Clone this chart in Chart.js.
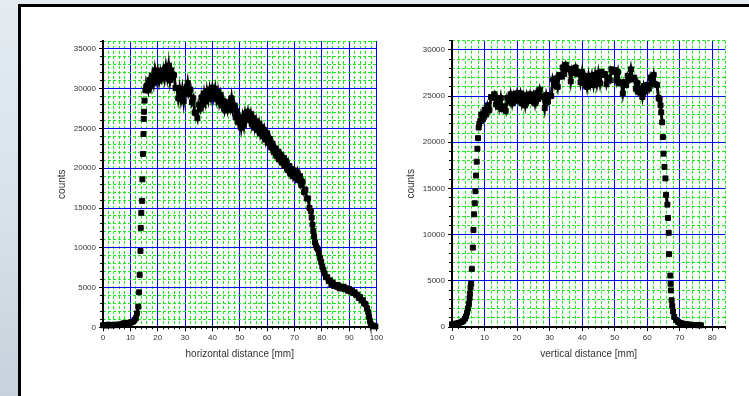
<!DOCTYPE html>
<html>
<head>
<meta charset="utf-8">
<script src="https://cdn.jsdelivr.net/npm/chart.js@4.4.1/dist/chart.umd.min.js"></script>
<style>
  html, body { margin: 0; padding: 0; }
  body {
    width: 749px; height: 396px; overflow: hidden; position: relative;
    background: linear-gradient(180deg, #e4ecf2 0%, #d8e1e9 55%, #c7d1db 100%);
  }
  #panel {
    position: absolute; left: 18px; top: 4px; width: 800px; height: 460px;
    box-sizing: border-box; border: 3px solid #000; background: #fff;
  }
  canvas { position: absolute; }
  #hChart { left: 40px; top: 20px; }
  #vChart { left: 390px; top: 20px; }
</style>
</head>
<body>
<div id="panel"></div>
<canvas id="hChart" width="352" height="360"></canvas>
<canvas id="vChart" width="350" height="360"></canvas>
<script>
// Horizontal beam profile: position [mm] and counts
const hDist = [
  0, 0.5, 1, 1.5, 2, 2.5, 3, 3.5, 4, 4.5, 5, 5.5, 6, 6.5, 7, 7.5, 8, 8.5, 9, 9.5,
  10, 10.5, 11, 11.5, 12,
  12.4, 12.9, 13.2, 13.4, 13.7, 13.8, 14.0, 14.3, 14.4, 14.6, 14.8, 14.9, 15.0, 15.2, 15.5, 15.8,
  16, 16.5, 17, 17.5, 18, 18.5, 19, 19.5,
  20, 20.5, 21, 21.5, 22, 22.5, 23, 23.5, 24, 24.5, 25, 25.5, 26, 26.5, 27, 27.5, 28, 28.5, 29, 29.5,
  30, 30.5, 31, 31.5, 32, 32.5, 33, 33.5, 34, 34.5, 35, 35.5, 36, 36.5, 37, 37.5, 38, 38.5, 39, 39.5,
  40, 40.5, 41, 41.5, 42, 42.5, 43, 43.5, 44, 44.5, 45, 45.5, 46, 46.5, 47, 47.5, 48, 48.5, 49, 49.5,
  50, 50.5, 51, 51.5, 52, 52.5, 53, 53.5, 54, 54.5, 55, 55.5, 56, 56.5, 57, 57.5, 58, 58.5, 59, 59.5,
  60, 60.5, 61, 61.5, 62, 62.5, 63, 63.5, 64, 64.5, 65, 65.5, 66, 66.5, 67, 67.5, 68, 68.5, 69, 69.5,
  70, 70.5, 71, 71.5, 72, 72.5, 73, 73.5, 74, 74.5, 75, 75.5,
  76, 76.3, 76.6, 76.9, 77.2, 77.5, 77.8, 78.2, 78.6, 79, 79.4, 79.8, 80.2, 80.6,
  81, 81.5, 82, 82.5, 83, 83.5, 84, 84.5, 85, 85.5, 86, 86.5, 87, 87.5, 88, 88.5, 89, 89.5,
  90, 90.5, 91, 91.5, 92, 92.5, 93, 93.5, 94, 94.5, 95, 95.5, 96, 96.5,
  97, 97.3, 97.6, 97.9, 98.3, 98.8, 99.3, 99.6
];
const hCounts = [
  250, 300, 220, 280, 320, 260, 300, 240, 310, 280, 330, 270, 350, 300, 420, 500, 460, 540, 500, 580,
  560, 650, 720, 900, 1150,
  1750, 2600, 4400, 6600, 9600, 12500, 14400, 15900, 18600, 21800, 24300, 26200, 27100, 28500, 29800, 30200,
  30400, 29800, 31100, 30300, 31600, 30700, 32300, 31200,
  32200, 31000, 32100, 31300, 32300, 31300, 32700, 31500, 32900, 31100, 32300, 31400, 31700, 30100, 30100, 28800, 30000, 28700, 29900, 28400,
  29900, 29400, 30700, 29400, 29900, 28300, 28800, 27000, 26900, 26300, 28000, 27500, 28900, 28000, 29400, 28400, 29700, 28700, 29900, 28900,
  30100, 29000, 30000, 28700, 29600, 28300, 29200, 27900, 28500, 27300, 28000, 27300, 28300, 27600, 28800, 27300, 27900, 26400, 27200, 25800,
  26300, 25100, 26400, 25400, 26900, 26200, 27100, 26100, 26800, 25500, 26300, 25100, 25900, 24800, 25600, 24400, 25200, 24000, 24800, 23600,
  24400, 23200, 23700, 22600, 23100, 22000, 22500, 21500, 22100, 21100, 21700, 20700, 21300, 20300, 20900, 19800, 20300, 19300, 19900, 19000,
  19700, 18800, 19500, 18500, 19000, 17900, 18300, 17000, 17300, 16200, 16200, 15000,
  14600, 13800, 12900, 12100, 11400, 10700, 10300, 10000, 9800, 9300, 8700, 8200, 7600, 7200,
  6800, 6300, 6300, 5800, 5900, 5400, 5600, 5200, 5300, 5100, 5300, 4900, 5100, 4900, 5100, 4800, 4900, 4600,
  4800, 4500, 4600, 4300, 4400, 4100, 4100, 3700, 3800, 3400, 3400, 3000, 2900, 2400,
  1900, 1300, 800, 400, 250, 200, 150, 100
];

// Vertical beam profile: position [mm] and counts
const vDist = [
  0, 0.5, 1, 1.5, 2, 2.5, 3, 3.5,
  4, 4.3, 4.6, 4.9, 5.2, 5.4, 5.5, 5.7, 5.9, 6.1, 6.4, 6.6, 6.8, 7.0, 7.2, 7.4, 7.6, 7.8, 8.0, 8.2, 8.4, 8.7,
  9, 9.5,
  10, 10.5, 11, 11.5, 12, 12.5, 13, 13.5, 14, 14.5, 15, 15.5, 16, 16.5, 17, 17.5, 18, 18.5, 19, 19.5,
  20, 20.5, 21, 21.5, 22, 22.5, 23, 23.5, 24, 24.5, 25, 25.5, 26, 26.5, 27, 27.5, 28, 28.5, 29, 29.5,
  30, 30.5, 31, 31.5, 32, 32.5, 33, 33.5, 34, 34.5, 35, 35.5, 36, 36.5, 37, 37.5, 38, 38.5, 39, 39.5,
  40, 40.5, 41, 41.5, 42, 42.5, 43, 43.5, 44, 44.5, 45, 45.5, 46, 46.5, 47, 47.5, 48, 48.5, 49, 49.5,
  50, 50.5, 51, 51.5, 52, 52.5, 53, 53.5, 54, 54.5, 55, 55.5, 56, 56.5, 57, 57.5, 58, 58.5, 59, 59.5,
  60, 60.5, 61, 61.5, 62, 62.5, 63, 63.5,
  63.8, 64.1, 64.3, 64.6, 64.8, 65.0, 65.3, 65.6, 65.8, 66.2, 66.4, 66.6, 66.7, 67.1, 67.2, 67.3, 67.5, 67.7, 67.9, 68.3, 68.9, 69.5,
  70, 70.5, 71, 71.5, 72, 72.5, 73, 73.5, 74, 74.5, 75, 75.5, 76, 76.5
];
const vCounts = [
  300, 250, 350, 380, 420, 480, 560, 680,
  900, 1150, 1550, 2000, 2500, 3100, 3600, 4300, 4700, 6300, 8600, 10500, 12200, 13400, 14700, 16400, 17900, 19300, 20450, 21600, 22000, 22300,
  23000, 22500,
  23500, 23000, 24000, 23500, 24900, 24800, 25200, 24100, 24700, 23800, 24800, 23600, 23900, 23400, 24800, 24400, 25200, 24200, 25100, 24500,
  25300, 24600, 25300, 24200, 25000, 24000, 25100, 24500, 25200, 24500, 25100, 24200, 25300, 24700, 25700, 25000, 24900, 23700, 25100, 24400,
  25100, 25000, 26800, 26200, 26900, 26000, 27300, 27100, 28100, 27400, 28400, 28000, 27900, 26600, 27900, 27500, 28100, 27400, 27600, 26500,
  27600, 26400, 27000, 26000, 27200, 26300, 27200, 26200, 27300, 26300, 27500, 26400, 27600, 27300, 27400, 26300, 27000, 26700, 27900, 27600,
  27800, 26700, 27600, 26400, 26500, 25300, 26500, 26200, 27200, 26800, 27900, 26800, 27000, 25800, 26400, 25400, 25800, 24900, 26100, 25500,
  26200, 25800, 27000, 26400, 27300, 26300, 26200, 24800,
  24650, 24000, 23240, 22160, 20560, 18770, 17340, 16090, 14320, 13250, 11810, 10200, 7890, 5570, 4680, 3960, 2900, 2300, 1700, 1100, 750, 550,
  450, 400, 350, 320, 300, 260, 250, 230, 220, 210, 210, 200, 200, 190
];

// Labelled (major) tick positions
const hTicksX = [0, 10, 20, 30, 40, 50, 60, 70, 80, 90, 100];
const hTicksY = [0, 5000, 10000, 15000, 20000, 25000, 30000, 35000];
const vTicksX = [0, 10, 20, 30, 40, 50, 60, 70, 80];
const vTicksY = [0, 5000, 10000, 15000, 20000, 25000, 30000];

const FONT = "'Liberation Sans', Arial, Helvetica, sans-serif";
const TEXT = '#333333';
const MAJOR_GRID = '#0000ff';
const MINOR_GRID = '#22e622';
const CLEAR = 'rgba(0,0,0,0)';
// Steeper than this (counts per mm) the samples stand apart as single squares
const JOIN_SLOPE = 4000;

function onStep(v, step) {
  const q = v / step;
  return Math.abs(q - Math.round(q)) < 1e-6;
}

// Minor tick positions between the labelled ones
function minorTicks(max, step, major) {
  const out = [];
  for (let k = 0; k * step <= max + 1e-9; k++) {
    const v = k * step;
    if (!onStep(v, major)) out.push({ value: v });
  }
  return out;
}

// One profile panel: blue major grid with labels, green dashed minor grid, black square markers
function profileChart(id, xs, ys, ax) {
  const points = xs.map((x, i) => ({ x: x, y: ys[i] }));
  const tickFont = { family: FONT, size: 8 };
  const titleFont = { family: FONT, size: 10 };

  return new Chart(document.getElementById(id), {
    type: 'scatter',
    data: {
      datasets: [{
        data: points,
        showLine: true,
        tension: 0,
        borderWidth: 3,
        borderColor: '#000',
        segment: {
          borderColor: c => {
            const dx = Math.abs(c.p1.parsed.x - c.p0.parsed.x) || 1e-6;
            const dy = Math.abs(c.p1.parsed.y - c.p0.parsed.y);
            return dy / dx > JOIN_SLOPE ? CLEAR : undefined;
          }
        },
        pointStyle: 'rect',
        pointRadius: 3.5,
        pointHoverRadius: 3.5,
        pointBorderWidth: 1,
        pointBackgroundColor: '#000',
        pointBorderColor: '#000',
        clip: false
      }]
    },
    options: {
      responsive: false,
      animation: false,
      events: [],
      layout: { padding: { left: 0, top: ax.padTop, right: ax.padRight, bottom: 20 } },
      plugins: { legend: { display: false }, tooltip: { enabled: false } },
      scales: {
        x: {
          type: 'linear', axis: 'x', position: 'bottom', weight: 1,
          min: 0, max: ax.xMax,
          afterBuildTicks: s => { s.ticks = ax.xLabels.map(v => ({ value: v })); },
          ticks: {
            autoSkip: false, maxRotation: 0, minRotation: 0,
            padding: 2, color: TEXT, font: tickFont,
            callback: v => String(v)
          },
          grid: { color: MAJOR_GRID, tickColor: '#000', lineWidth: 1, tickLength: 4, tickWidth: 1 },
          border: { display: true, color: '#000', width: 2 },
          title: { display: true, text: ax.xTitle, color: TEXT, font: titleFont, padding: { top: 0, bottom: 0 } },
          afterFit: s => { s.height = ax.xBox; s.paddingLeft = 0; s.paddingRight = 0; }
        },
        xMinor: {
          type: 'linear', axis: 'x', position: 'bottom', weight: 0,
          min: 0, max: ax.xMax,
          afterBuildTicks: s => { s.ticks = minorTicks(ax.xMax, ax.xMinor, 10); },
          ticks: { display: false, autoSkip: false },
          grid: { color: MINOR_GRID, tickColor: '#000', lineWidth: 1, tickLength: 2, tickWidth: 1 },
          border: { display: false, dash: [3, 2] },
          afterFit: s => { s.height = 0; s.paddingLeft = 0; s.paddingRight = 0; }
        },
        y: {
          type: 'linear', axis: 'y', position: 'left', weight: 1,
          min: 0, max: ax.yMax,
          afterBuildTicks: s => { s.ticks = ax.yLabels.map(v => ({ value: v })); },
          ticks: {
            autoSkip: false, padding: 3, color: TEXT, font: tickFont,
            callback: v => String(v)
          },
          grid: { color: MAJOR_GRID, tickColor: '#000', lineWidth: 1, tickLength: 4, tickWidth: 1 },
          border: { display: true, color: '#000', width: 2 },
          title: { display: true, text: 'counts', color: TEXT, font: titleFont, padding: { top: ax.yTitlePad, bottom: 0 } },
          afterFit: s => { s.width = ax.yBox; s.paddingTop = 0; s.paddingBottom = 0; }
        },
        yMinor: {
          type: 'linear', axis: 'y', position: 'left', weight: 0,
          min: 0, max: ax.yMax,
          afterBuildTicks: s => { s.ticks = minorTicks(ax.yMax, ax.yMinor, 5000); },
          ticks: { display: false, autoSkip: false },
          grid: { color: MINOR_GRID, tickColor: '#000', lineWidth: 1, tickLength: 3, tickWidth: 1 },
          border: { display: false, dash: [3, 2] },
          afterFit: s => { s.width = 0; s.paddingTop = 0; s.paddingBottom = 0; }
        }
      }
    }
  });
}

profileChart('hChart', hDist, hCounts, {
  xMax: 100, xMinor: 2, xLabels: hTicksX,
  yMax: 36000, yMinor: 1000, yLabels: hTicksY,
  xTitle: 'horizontal distance [mm]',
  padTop: 21, padRight: 15.5, xBox: 32.7, yBox: 63, yTitlePad: 16
});

profileChart('vChart', vDist, vCounts, {
  xMax: 84, xMinor: 2, xLabels: vTicksX,
  yMax: 31000, yMinor: 1000, yLabels: vTicksY,
  xTitle: 'vertical distance [mm]',
  padTop: 20.7, padRight: 14.7, xBox: 33, yBox: 62, yTitlePad: 15
});
</script>
</body>
</html>
